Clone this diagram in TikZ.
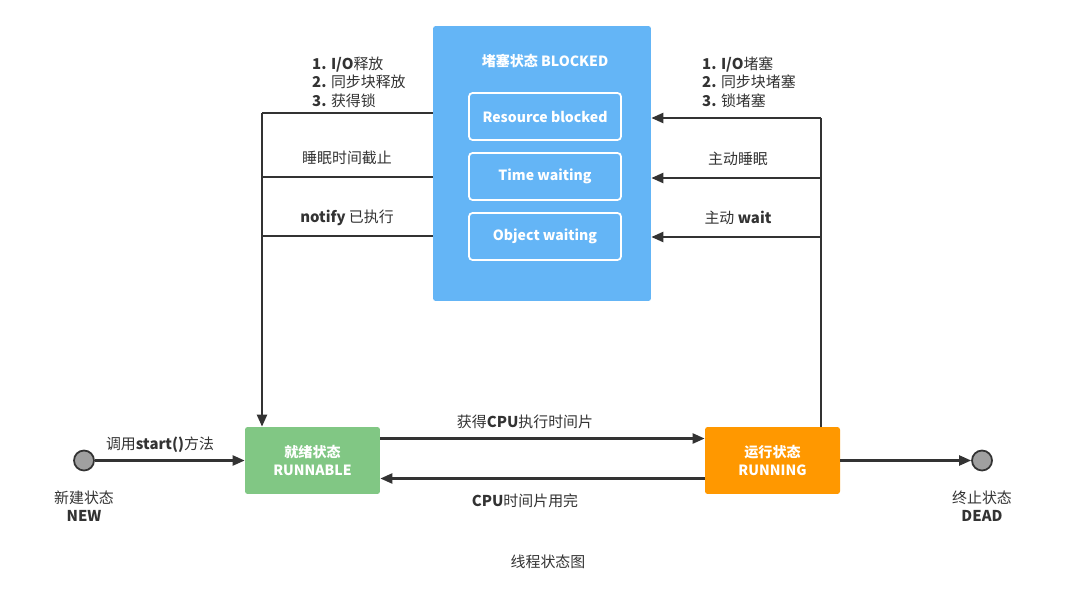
\documentclass[tikz,border=0pt]{standalone}
\usepackage{fontspec}
\setmainfont{Noto Sans CJK SC}
\usepackage{xcolor}
\usepackage{tikz}
\usetikzlibrary{arrows.meta, positioning}

\definecolor{blockblue}{RGB}{100,181,246}
\definecolor{readygreen}{RGB}{129,199,132}
\definecolor{runorange}{RGB}{255,152,0}
\definecolor{enddot}{RGB}{160,160,160}
\definecolor{linegray}{RGB}{51,51,51}

\tikzset{
    flow/.style={draw=linegray, line width=1.3pt, -{Triangle[length=2.4mm, width=2mm]}},
    edge/.style={draw=linegray, line width=1.3pt},
    statebox/.style={rounded corners=1.5pt, minimum width=2.7cm, minimum height=1.34cm, align=center, text=white, font=\fontsize{8}{10}\selectfont\bfseries},
    subbox/.style={draw=white, line width=1pt, rounded corners=2pt, minimum width=3.04cm, minimum height=0.94cm, text=white, font=\fontsize{8}{10}\selectfont\bfseries},
    dot/.style={circle, draw=linegray, line width=1pt, fill=enddot, minimum size=0.4cm, inner sep=0pt},
    txt/.style={text=linegray, font=\fontsize{8.5}{10.5}\selectfont, align=center},
    ltxt/.style={text=linegray, font=\fontsize{8.5}{10.5}\selectfont, align=left, anchor=west},
}

\begin{document}
\begin{tikzpicture}[x=0.02cm, y=-0.02cm]
                \useasboundingbox (0,0) rectangle (1070,601);

                \node[fill=blockblue, rounded corners=1.5pt, minimum width=4.36cm, minimum height=5.5cm] (blocked) at (542,163.5) {};
                \node[text=white, font=\fontsize{8}{10}\selectfont\bfseries] (blockedtitle) at (545,61) {堵塞状态 BLOCKED};
                \node[subbox] (resource) at (545,116.5) {Resource blocked};
                \node[subbox] (timewait) at (545,176.5) {Time waiting};
                \node[subbox] (objwait) at (545,236.5) {Object waiting};

                \node[statebox, fill=readygreen] (runnable) at (312.5,460.5) {就绪状态\\RUNNABLE};
                \node[statebox, fill=runorange] (running) at (772.5,460.5) {运行状态\\RUNNING};
                \node[dot] (new) at (84,460.5) {};
                \node[dot] (dead) at (982,460.5) {};

                \node[txt] (newlbl) at (84,506) {新建状态\\\textbf{NEW}};
                \node[txt] (deadlbl) at (982,506) {终止状态\\\textbf{DEAD}};

                \coordinate (l1) at (262,113);
                \coordinate (l2) at (262,177);
                \coordinate (l3) at (262,236);
                \coordinate (r1) at (821,118);
                \coordinate (r2) at (821,178);
                \coordinate (r3) at (821,237);

                \draw[edge] (blocked.west |- l1) -- (l1);
                \draw[edge] (blocked.west |- l2) -- (l2);
                \draw[edge] (blocked.west |- l3) -- (l3);
                \draw[flow] (l1) -- (l1 |- runnable.north);

                \draw[edge] (r1 |- running.north) -- (r1);
                \draw[flow] (r1) -- (blocked.east |- r1);
                \draw[flow] (r2) -- (blocked.east |- r2);
                \draw[flow] (r3) -- (blocked.east |- r3);

                \draw[flow] (new) -- (runnable);
                \draw[flow] ([yshift=0.44cm]runnable.east) -- ([yshift=0.44cm]running.west);
                \draw[flow] ([yshift=-0.36cm]running.west) -- ([yshift=-0.36cm]runnable.east);
                \draw[flow] (running) -- (dead);

                \node[ltxt] (relnote) at (306,82) {\textbf{1.} \textbf{I/O}释放\\\textbf{2.} 同步块释放\\\textbf{3.} 获得锁};
                \node[txt] (sleepend) at (347,158) {睡眠时间截止};
                \node[txt] (notified) at (347,218) {\textbf{notify} 已执行};
                \node[ltxt] (blknote) at (696,82) {\textbf{1.} \textbf{I/O}堵塞\\\textbf{2.} 同步块堵塞\\\textbf{3.} 锁堵塞};
                \node[txt] (selfsleep) at (738,159) {主动睡眠};
                \node[txt] (selfwait) at (738,218) {主动 \textbf{wait}};

                \node[txt] (startlbl) at (160,445) {调用\textbf{start()}方法};
                \node[txt] (getcpu) at (525,422) {获得\textbf{CPU}执行时间片};
                \node[txt] (cpudone) at (525,501) {\textbf{CPU}时间片用完};
                \node[txt] (title) at (548,562) {线程状态图};
            \end{tikzpicture}
\end{document}
